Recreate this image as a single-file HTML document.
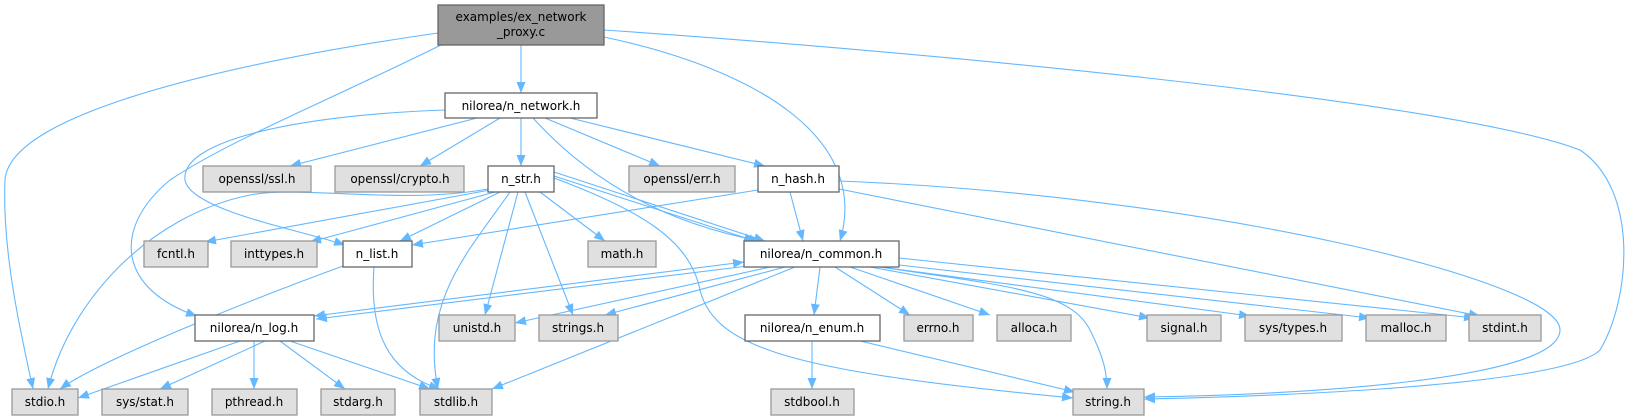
<!DOCTYPE html>
<html><head><meta charset="utf-8"><style>
body{margin:0;background:#fff;}
svg{display:block;}
text{font-family:"DejaVu Sans","Liberation Sans",sans-serif;font-size:12px;fill:#000;text-anchor:middle;}
.w{fill:#fff;stroke:#666;stroke-width:1.3}
.g{fill:#e0e0e0;stroke:#999;stroke-width:1.3}
.r{fill:#999;stroke:#666;stroke-width:1.3}
path.e{fill:none;stroke:#63b8ff;stroke-width:1.1;marker-end:url(#a)}
</style></head><body>
<svg width="1631" height="417" viewBox="0 0 1631 417">
<defs><marker id="a" markerUnits="userSpaceOnUse" markerWidth="12" markerHeight="9" refX="11" refY="4.5" orient="auto-start-reverse"><path d="M0,0 L11,4.5 L0,9 z" fill="#63b8ff"/></marker></defs>
<g>
<path class="e" d="M521,45 L521,93"/>
<path class="e" d="M438,33 C250,60 10,110 5,180 C2,250 20,330 33,389"/>
<path class="e" d="M441,45 C330,100 230,140 170,180 C110,230 120,290 197,316"/>
<path class="e" d="M604,37 C760,70 870,140 840,241"/>
<path class="e" d="M604,30 C900,50 1450,100 1580,150 C1640,190 1630,300 1600,350 C1560,390 1200,398 1144,399"/>
<path class="e" d="M477,118 L290,166"/>
<path class="e" d="M500,118 L420,166"/>
<path class="e" d="M521,118 L521,166"/>
<path class="e" d="M545,118 L660,166"/>
<path class="e" d="M570,118 L765,166"/>
<path class="e" d="M445,110 C300,115 180,140 185,180 C190,210 300,230 345,245"/>
<path class="e" d="M533,118 C580,170 650,220 760,241"/>
<path class="e" d="M488,189 C400,205 300,185 250,195 C150,215 70,300 48,389"/>
<path class="e" d="M490,190 L205,242"/>
<path class="e" d="M495,192 L310,242"/>
<path class="e" d="M500,192 L400,241"/>
<path class="e" d="M540,192 L605,241"/>
<path class="e" d="M518,192 L485,315"/>
<path class="e" d="M525,192 L573,315"/>
<path class="e" d="M510,192 C470,250 420,300 438,389"/>
<path class="e" d="M554,172 L765,241"/>
<path class="e" d="M554,176 L755,241"/>
<path class="e" d="M554,178 C640,210 690,240 700,290 C715,350 800,372 1073,398"/>
<path class="e" d="M758,190 L412,245"/>
<path class="e" d="M790,192 L803,241"/>
<path class="e" d="M839,189 L1480,316"/>
<path class="e" d="M839,181 C1200,195 1560,280 1560,330 C1560,380 1300,395 1144,397"/>
<path class="e" d="M343,266 C250,300 100,360 60,389"/>
<path class="e" d="M374,267 C370,320 380,370 440,389"/>
<path class="e" d="M744,262 L314,316" style="marker-start:url(#a)"/>
<path class="e" d="M748,266 L316,319"/>
<path class="e" d="M770,267 L515,323"/>
<path class="e" d="M785,267 L605,315"/>
<path class="e" d="M795,267 L492,389"/>
<path class="e" d="M820,267 L814,315"/>
<path class="e" d="M835,267 L910,315"/>
<path class="e" d="M850,267 L990,315"/>
<path class="e" d="M870,267 L1150,318"/>
<path class="e" d="M880,267 L1250,316"/>
<path class="e" d="M899,265 L1370,318"/>
<path class="e" d="M899,258 L1475,318"/>
<path class="e" d="M880,267 C1000,285 1070,290 1090,330 C1105,360 1107,375 1107,389"/>
<path class="e" d="M240,341 L78,398"/>
<path class="e" d="M265,341 L160,389"/>
<path class="e" d="M254,341 L254,389"/>
<path class="e" d="M280,341 L345,389"/>
<path class="e" d="M290,341 L430,389"/>
<path class="e" d="M812,341 L812,389"/>
<path class="e" d="M860,341 L1075,392"/>
</g>
<g>
<rect class="r" x="438" y="5" width="166" height="40"/><text x="521" y="21">examples/ex_network</text><text x="521" y="36">_proxy.c</text>
<rect class="w" x="445" y="93" width="152" height="25"/><text x="521" y="110">nilorea/n_network.h</text>
<rect class="g" x="203" y="166" width="108" height="26"/><text x="257" y="183">openssl/ssl.h</text>
<rect class="g" x="335" y="166" width="129" height="26"/><text x="400" y="183">openssl/crypto.h</text>
<rect class="w" x="488" y="166" width="66" height="26"/><text x="521" y="183">n_str.h</text>
<rect class="g" x="629" y="166" width="106" height="26"/><text x="682" y="183">openssl/err.h</text>
<rect class="w" x="758" y="166" width="81" height="26"/><text x="798" y="183">n_hash.h</text>
<rect class="g" x="144" y="241" width="64" height="26"/><text x="176" y="258">fcntl.h</text>
<rect class="g" x="231" y="241" width="86" height="26"/><text x="274" y="258">inttypes.h</text>
<rect class="w" x="343" y="241" width="69" height="26"/><text x="377" y="258">n_list.h</text>
<rect class="g" x="588" y="241" width="68" height="26"/><text x="622" y="258">math.h</text>
<rect class="w" x="744" y="241" width="155" height="26"/><text x="821" y="258">nilorea/n_common.h</text>
<rect class="w" x="195" y="315" width="119" height="26"/><text x="254" y="332">nilorea/n_log.h</text>
<rect class="g" x="439" y="315" width="76" height="26"/><text x="477" y="332">unistd.h</text>
<rect class="g" x="539" y="315" width="79" height="26"/><text x="578" y="332">strings.h</text>
<rect class="w" x="745" y="315" width="135" height="26"/><text x="812" y="332">nilorea/n_enum.h</text>
<rect class="g" x="904" y="315" width="69" height="26"/><text x="938" y="332">errno.h</text>
<rect class="g" x="997" y="315" width="74" height="26"/><text x="1034" y="332">alloca.h</text>
<rect class="g" x="1147" y="315" width="74" height="26"/><text x="1184" y="332">signal.h</text>
<rect class="g" x="1245" y="315" width="97" height="26"/><text x="1293" y="332">sys/types.h</text>
<rect class="g" x="1366" y="315" width="80" height="26"/><text x="1406" y="332">malloc.h</text>
<rect class="g" x="1469" y="315" width="72" height="26"/><text x="1505" y="332">stdint.h</text>
<rect class="g" x="12" y="389" width="66" height="26"/><text x="45" y="406">stdio.h</text>
<rect class="g" x="102" y="389" width="86" height="26"/><text x="145" y="406">sys/stat.h</text>
<rect class="g" x="212" y="389" width="85" height="26"/><text x="254" y="406">pthread.h</text>
<rect class="g" x="321" y="389" width="74" height="26"/><text x="358" y="406">stdarg.h</text>
<rect class="g" x="420" y="389" width="72" height="26"/><text x="456" y="406">stdlib.h</text>
<rect class="g" x="771" y="389" width="83" height="26"/><text x="812" y="406">stdbool.h</text>
<rect class="g" x="1073" y="389" width="71" height="26"/><text x="1108" y="406">string.h</text>
</g>
</svg>
</body></html>
